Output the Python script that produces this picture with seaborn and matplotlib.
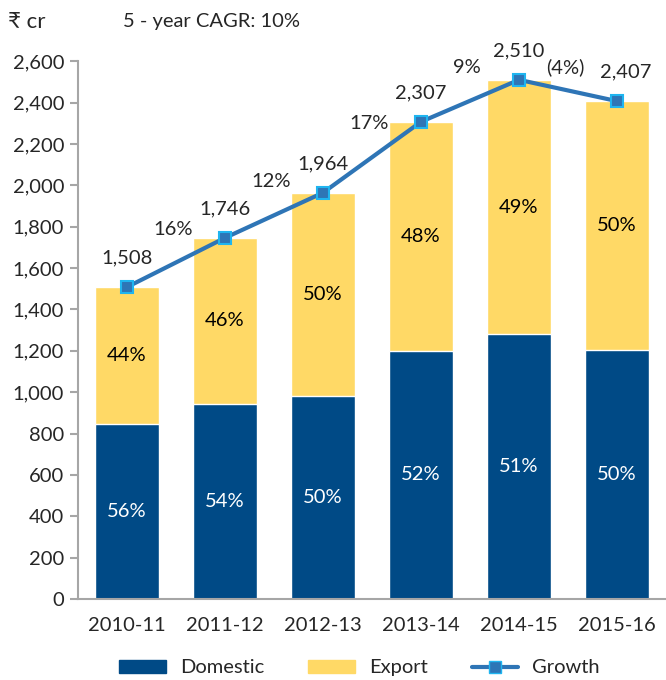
import numpy as np
import pandas as pd
import seaborn as sns
import matplotlib.pyplot as plt
from matplotlib.patches import Patch
from matplotlib.lines import Line2D

years = ["2010-11", "2011-12", "2012-13", "2013-14", "2014-15", "2015-16"]
total = [1508, 1746, 1964, 2307, 2510, 2407]
domestic = [844, 943, 982, 1200, 1280, 1204]
dom_pct = ["56%", "54%", "50%", "52%", "51%", "50%"]
exp_pct = ["44%", "46%", "50%", "48%", "49%", "50%"]
growth = ["16%", "12%", "17%", "9%", "(4%)"]

dark_blue = "#004A86"
yellow = "#FFD966"
line_blue = "#2E75B6"
grey = "#A6A6A6"
fs = 14.5

sns.set_style("white")
plt.rcParams["font.family"] = ["Lato", "Noto Sans", "DejaVu Sans"]

df = pd.DataFrame({"year": years, "total": total, "domestic": domestic})

fig = plt.figure(figsize=(6.66, 6.8), dpi=100)
ax = fig.add_axes([0.117, 0.119, 0.883, 0.791])

sns.barplot(data=df, x="year", y="total", color=yellow, width=0.645,
            saturation=1, ax=ax)
sns.barplot(data=df, x="year", y="domestic", color=dark_blue, width=0.645,
            saturation=1, ax=ax)
x = np.arange(len(years))
ax.plot(x, total, color=line_blue, lw=3, marker="s", markersize=9,
        markerfacecolor=line_blue, markeredgecolor="#1FB5F0", markeredgewidth=1.5,
        zorder=5)

for i in range(len(years)):
    ax.text(i, domestic[i] / 2, dom_pct[i], ha="center", va="center",
            color="white", fontsize=fs)
    ax.text(i, (domestic[i] + total[i]) / 2, exp_pct[i], ha="center", va="center",
            color="black", fontsize=fs)
    dx = 6 if i == len(years) - 1 else 0
    ax.annotate(f"{total[i]:,}", (i, total[i]), xytext=(dx, 21),
                textcoords="offset points", ha="center", va="center", fontsize=fs)
for i, g in enumerate(growth):
    dy = 17 if i == len(growth) - 1 else 24
    ax.annotate(g, (i + 0.5, (total[i] + total[i + 1]) / 2), xytext=(-2, dy),
                textcoords="offset points", ha="center", va="center", fontsize=fs)

ax.set_ylim(0, 2600)
ax.set_xlim(-0.5, 5.42)
ax.set_yticks(range(0, 2601, 200))
ax.set_yticklabels([f"{v:,}" for v in range(0, 2601, 200)], fontsize=fs)
ax.set_xticks(x)
ax.set_xticklabels(years, fontsize=fs)
ax.set_xticks(np.arange(-0.5, 5.6, 1), minor=True)
ax.tick_params(axis="x", which="major", length=0, pad=13)
ax.tick_params(axis="x", which="minor", length=6, color=grey, width=1.5, direction="out")
ax.tick_params(axis="y", length=6, color=grey, width=1.5, direction="out", left=True,
               pad=4)
ax.set_xlabel("")
ax.set_ylabel("")
for s in ["top", "right"]:
    ax.spines[s].set_visible(False)
for s in ["left", "bottom"]:
    ax.spines[s].set_color(grey)
    ax.spines[s].set_linewidth(1.5)

fig.text(0.012, 0.968, "₹ cr", fontsize=16, va="center", ha="left")
fig.text(0.185, 0.968, "5 - year CAGR: 10%", fontsize=fs, va="center", ha="left")

handles = [Patch(color=dark_blue, label="Domestic"),
           Patch(color=yellow, label="Export"),
           Line2D([0], [0], color=line_blue, lw=3, marker="s", markersize=9,
                  markerfacecolor=line_blue, markeredgecolor="#1FB5F0",
                  label="Growth")]
fig.legend(handles=handles, loc="center", bbox_to_anchor=(0.54, 0.018), ncol=3,
           frameon=False, fontsize=fs, handlelength=2.3, handleheight=0.6,
           handletextpad=0.7, columnspacing=2.2)

fig.savefig("out.png", dpi=100)
